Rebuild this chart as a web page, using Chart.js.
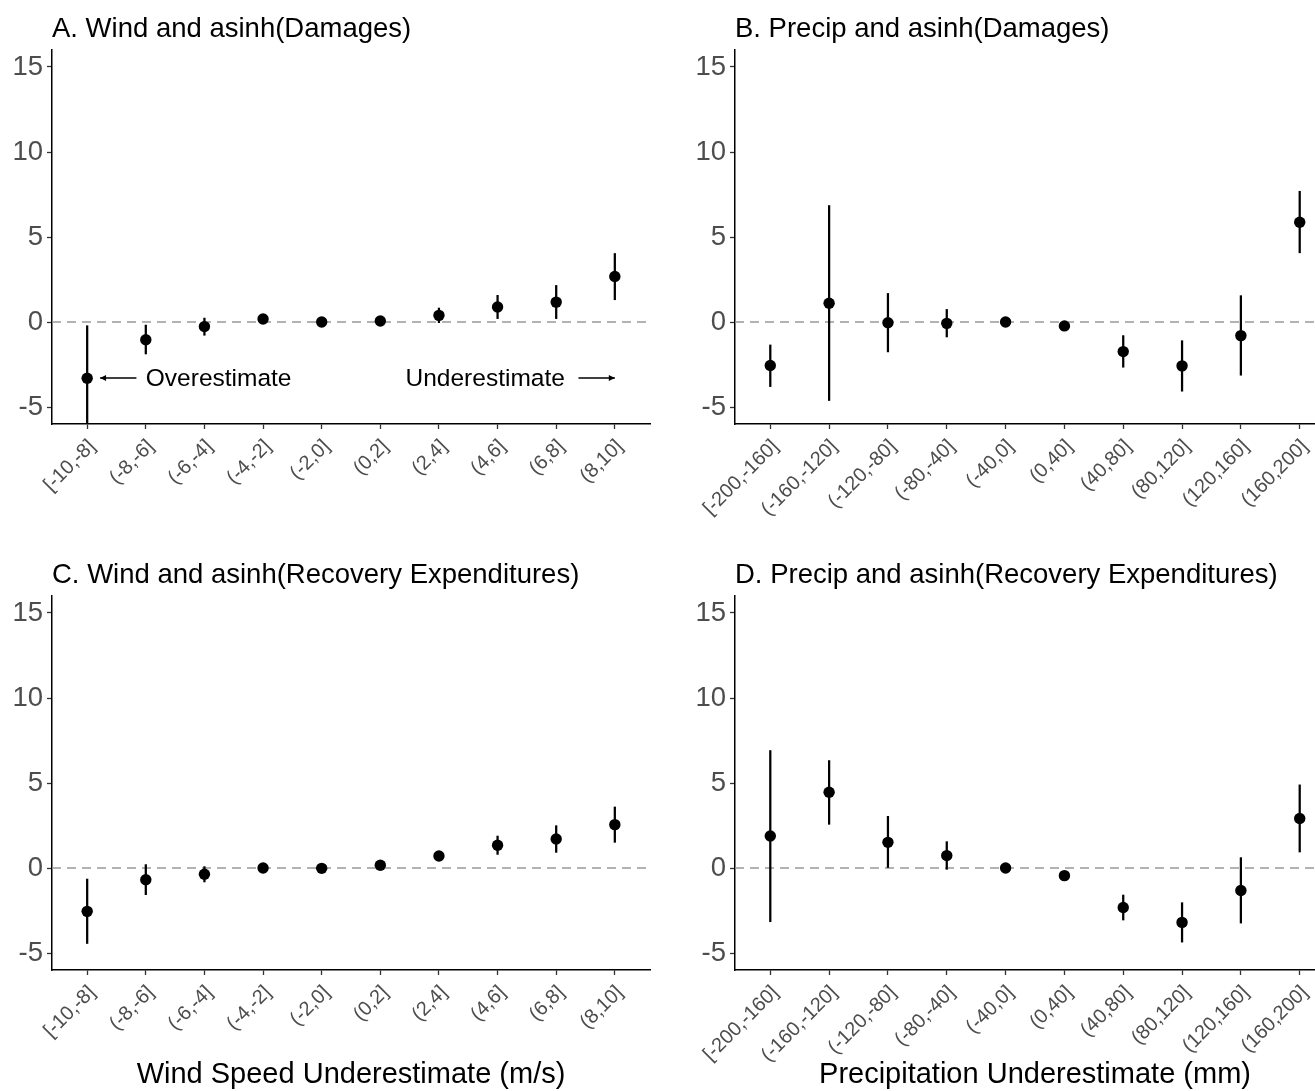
<!DOCTYPE html>
<html>
<head>
<meta charset="utf-8">
<script src="https://cdn.jsdelivr.net/npm/chart.js@4"></script>
<style>
html,body{margin:0;padding:0;background:#fff;overflow:hidden;}
#wrap{position:relative;width:1315px;height:1091px;overflow:hidden;background:#fff;}
canvas{position:absolute;}
</style>
</head>
<body>
<div id="wrap">
<canvas id="cA" width="660" height="546" style="left:0px;top:0px"></canvas>
<canvas id="cB" width="685" height="546" style="left:660px;top:0px"></canvas>
<canvas id="cC" width="660" height="545" style="left:0px;top:546px"></canvas>
<canvas id="cD" width="685" height="545" style="left:660px;top:546px"></canvas>
</div>
<script>
// ---------- data ----------
const windCats = ['[-10,-8]','(-8,-6]','(-6,-4]','(-4,-2]','(-2,0]','(0,2]','(2,4]','(4,6]','(6,8]','(8,10]'];
const precipCats = ['[-200,-160]','(-160,-120]','(-120,-80]','(-80,-40]','(-40,0]','(0,40]','(40,80]','(80,120]','(120,160]','(160,200]'];
const yTicks = [-5, 0, 5, 10, 15];

const titleA = 'A. Wind and asinh(Damages)';
const titleB = 'B. Precip and asinh(Damages)';
const titleC = 'C. Wind and asinh(Recovery Expenditures)';
const titleD = 'D. Precip and asinh(Recovery Expenditures)';
const xTitleWind = 'Wind Speed Underestimate (m/s)';
const xTitlePrecip = 'Precipitation Underestimate (mm)';

// Panel A: wind, damages
const aEst = [-3.31, -1.04, -0.27, 0.18, 0.00, 0.06, 0.39, 0.88, 1.17, 2.68];
const aLo  = [-6.80, -1.88, -0.78, 0.06, -0.08, -0.04, -0.04, 0.20, 0.20, 1.31];
const aHi  = [-0.22, -0.18, 0.23, 0.30, 0.08, 0.16, 0.82, 1.57, 2.15, 4.03];
// Panel B: precip, damages
const bEst = [-2.56, 1.10, -0.04, -0.08, 0.00, -0.23, -1.74, -2.58, -0.80, 5.87];
const bLo  = [-3.80, -4.62, -1.76, -0.88, -0.06, -0.35, -2.66, -4.07, -3.13, 4.07];
const bHi  = [-1.35, 6.85, 1.68, 0.74, 0.06, -0.11, -0.80, -1.10, 1.55, 7.69];
// Panel C: wind, recovery expenditures
const cEst = [-2.55, -0.69, -0.37, 0.00, -0.02, 0.16, 0.71, 1.34, 1.71, 2.55];
const cLo  = [-4.44, -1.57, -0.82, -0.08, -0.10, 0.06, 0.55, 0.80, 0.92, 1.51];
const cHi  = [-0.65, 0.20, 0.08, 0.08, 0.06, 0.26, 0.87, 1.88, 2.49, 3.59];
// Panel D: precip, recovery expenditures
const dEst = [1.88, 4.46, 1.51, 0.73, 0.00, -0.45, -2.32, -3.20, -1.32, 2.91];
const dLo  = [-3.16, 2.57, 0.00, -0.08, -0.05, -0.55, -3.06, -4.36, -3.24, 0.94];
const dHi  = [6.91, 6.32, 3.04, 1.55, 0.05, -0.35, -1.59, -2.04, 0.61, 4.89];

// Panel A annotations (data units)
const annoLabels = ['Overestimate', 'Underestimate'];
const annoTextX  = [1.0, 5.43];
const annoY      = -3.3;
const arrowFrom  = [0.84, 8.38];
const arrowTo    = [0.22, 9.0];

// ---------- drawing ----------
const FONT = "'Liberation Sans', Arial, Helvetica, sans-serif";
const xMin = -0.6, xMax = 9.6, yMin = -6, yMax = 16;

const annoPlugin = {
  id: 'anno',
  afterDatasetsDraw(chart) {
    const xs = chart.scales.x, ys = chart.scales.y, ctx = chart.ctx;
    ctx.save();
    ctx.fillStyle = '#000';
    ctx.strokeStyle = '#000';
    ctx.lineWidth = 1.5;
    ctx.font = '24.5px ' + FONT;
    ctx.textBaseline = 'middle';
    ctx.textAlign = 'left';
    const py = ys.getPixelForValue(annoY);
    annoLabels.forEach((t, i) => {
      ctx.fillText(t, xs.getPixelForValue(annoTextX[i]), py + 1);
      const x0 = xs.getPixelForValue(arrowFrom[i]);
      const x1 = xs.getPixelForValue(arrowTo[i]);
      ctx.beginPath();
      ctx.moveTo(x0, py); ctx.lineTo(x1, py); ctx.stroke();
      const dir = x1 > x0 ? 1 : -1;
      ctx.beginPath();
      ctx.moveTo(x1 - dir * 6, py - 3);
      ctx.lineTo(x1, py);
      ctx.lineTo(x1 - dir * 6, py + 3);
      ctx.closePath();
      ctx.fill();
    });
    ctx.restore();
  }
};

function makeChart(id, title, cats, est, lo, hi, yWidth, xHeight, xTitle, withAnno) {
  const ctx = document.getElementById(id).getContext('2d');
  return new Chart(ctx, {
    type: 'bar',
    data: {
      datasets: [
        { type: 'scatter', data: est.map((v, i) => ({ x: i, y: v })),
          backgroundColor: '#000', borderColor: '#000', pointRadius: 5.7, pointHoverRadius: 5.7,
          pointBorderWidth: 0, order: 0 },
        { type: 'bar', data: lo.map((v, i) => ({ x: i, y: [v, hi[i]] })),
          backgroundColor: '#000', barThickness: 1.6, borderWidth: 0, borderSkipped: false, order: 1 },
        { type: 'line', data: [{ x: xMin, y: 0 }, { x: xMax, y: 0 }],
          borderColor: '#999999', borderWidth: 1.4, borderDash: [9, 6], pointRadius: 0, order: 2 }
      ]
    },
    options: {
      responsive: false, animation: false, events: [],
      layout: { padding: { left: 0, right: 10, top: 0, bottom: 0 } },
      plugins: {
        legend: { display: false }, tooltip: { enabled: false },
        title: { display: true, text: title, align: 'start', fullSize: false, color: '#000',
          font: { family: FONT, size: 27.5, weight: 'normal', lineHeight: 1.2 },
          padding: { top: 13, bottom: 4 } }
      },
      scales: {
        x: {
          type: 'linear', min: xMin, max: xMax, offset: false,
          grid: { display: true, drawOnChartArea: false, drawTicks: true, tickLength: 5,
                  tickColor: '#333', tickWidth: 1.3, offset: false },
          border: { display: true, color: '#000', width: 1.5 },
          ticks: { autoSkip: false, maxRotation: 45, minRotation: 45, color: '#4d4d4d',
                   font: { family: FONT, size: 20 }, padding: 6, labelOffset: 5,
                   callback: (v) => (cats[v] !== undefined ? cats[v] : '') },
          afterBuildTicks: (s) => { s.ticks = cats.map((_, i) => ({ value: i })); },
          afterFit: (s) => { s.height = xHeight; s.paddingLeft = 0; s.paddingRight = 0; },
          title: { display: !!xTitle, text: xTitle || '', color: '#000',
                   font: { family: FONT, size: 29, lineHeight: 1.1 }, padding: { top: 0, bottom: 0 } }
        },
        y: {
          type: 'linear', min: yMin, max: yMax,
          grid: { display: true, drawOnChartArea: false, drawTicks: true, tickLength: 5,
                  tickColor: '#333', tickWidth: 1.3 },
          border: { display: true, color: '#000', width: 1.5 },
          ticks: { color: '#4d4d4d', font: { family: FONT, size: 27.5 }, padding: 4 },
          afterBuildTicks: (s) => { s.ticks = yTicks.map(v => ({ value: v })); },
          afterFit: (s) => { s.width = yWidth; }
        }
      }
    },
    plugins: withAnno ? [annoPlugin] : []
  });
}

makeChart('cA', titleA, windCats, aEst, aLo, aHi, 52, 122, null, true);
makeChart('cB', titleB, precipCats, bEst, bLo, bHi, 75, 122, null, false);
makeChart('cC', titleC, windCats, cEst, cLo, cHi, 52, 121, xTitleWind, false);
makeChart('cD', titleD, precipCats, dEst, dLo, dHi, 75, 121, xTitlePrecip, false);
</script>
</body>
</html>
